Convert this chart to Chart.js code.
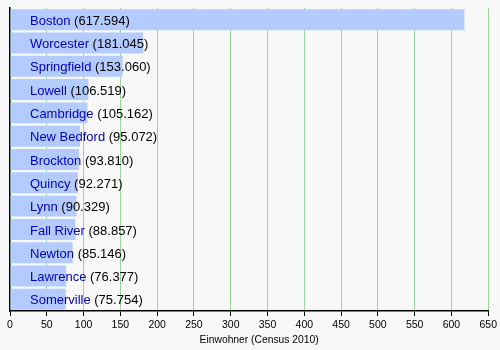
<!DOCTYPE html>
<html><head><meta charset="utf-8">
<script src="https://cdn.jsdelivr.net/npm/chart.js@4"></script>
<style>html,body{margin:0;padding:0;background:#f8f8f8;}#wrap{width:500px;height:350px;}</style>
</head><body><div id="wrap"><canvas id="c" width="500" height="350"></canvas></div>
<script>
const cities = ["Boston","Worcester","Springfield","Lowell","Cambridge","New Bedford","Brockton","Quincy","Lynn","Fall River","Newton","Lawrence","Somerville"];
const population = [617594,181045,153060,106519,105162,95072,93810,92271,90329,88857,85146,76377,75754];
const xTicks = [0,50,100,150,200,250,300,350,400,450,500,550,600,650];
const axisTitle = "Einwohner (Census 2010)";

function fmt(n){return String(n).replace(/\B(?=(\d{3})+(?!\d))/g,".");}
const FAM = "'Liberation Sans', Arial, sans-serif";
const FONT = "13px " + FAM;

const bg = {id:'bg',beforeDraw(ch){const c=ch.ctx;c.save();c.fillStyle='#f8f8f8';c.fillRect(0,0,ch.width,ch.height);c.restore();}};
const labels = {id:'labels',afterDatasetsDraw(ch){
  const c=ch.ctx;const meta=ch.getDatasetMeta(0);
  c.save();c.font=FONT;c.textBaseline='middle';c.textAlign='left';
  meta.data.forEach((bar,i)=>{
    const x=ch.chartArea.left+20, y=bar.y+1.5;
    c.fillStyle='#0000cc';c.fillText(cities[i],x,y);
    const w=c.measureText(cities[i]+' ').width;
    c.fillStyle='#000';c.fillText('('+fmt(population[i])+')',x+w,y);
  });
  const ca=ch.chartArea;
  c.fillStyle='#000';c.textAlign='center';c.font="10.3px "+FAM;
  c.fillText(axisTitle,(ca.left+ca.right)/2+10,340);
  c.restore();
}};

new Chart(document.getElementById('c'),{
  type:'bar',
  data:{labels:cities,datasets:[{data:population.map(v=>v/1000),backgroundColor:'#b3cbff',borderWidth:0,categoryPercentage:1,barPercentage:0.9}]},
  options:{
    indexAxis:'y',responsive:false,animation:false,devicePixelRatio:1,
    layout:{padding:{left:10,right:10,top:8,bottom:0}},
    plugins:{legend:{display:false},tooltip:{enabled:false}},
    scales:{
      x:{min:0,max:650,
        afterBuildTicks(s){s.ticks=xTicks.map(v=>({value:v}));},
        afterFit(s){s.height=39;},
        grid:{color:'#99d699',lineWidth:1,tickLength:5,tickColor:'#000',drawOnChartArea:true},
        border:{display:true,color:'#000',width:1.5},
        ticks:{color:'#000',font:{family:FAM,size:10.5},padding:3,maxRotation:0,autoSkip:false}
      },
      y:{afterFit(s){s.width=0;},grid:{display:false},ticks:{display:false},border:{display:true,color:'#000',width:1.5}}
    }
  },
  plugins:[bg,labels]
});
</script></body></html>
